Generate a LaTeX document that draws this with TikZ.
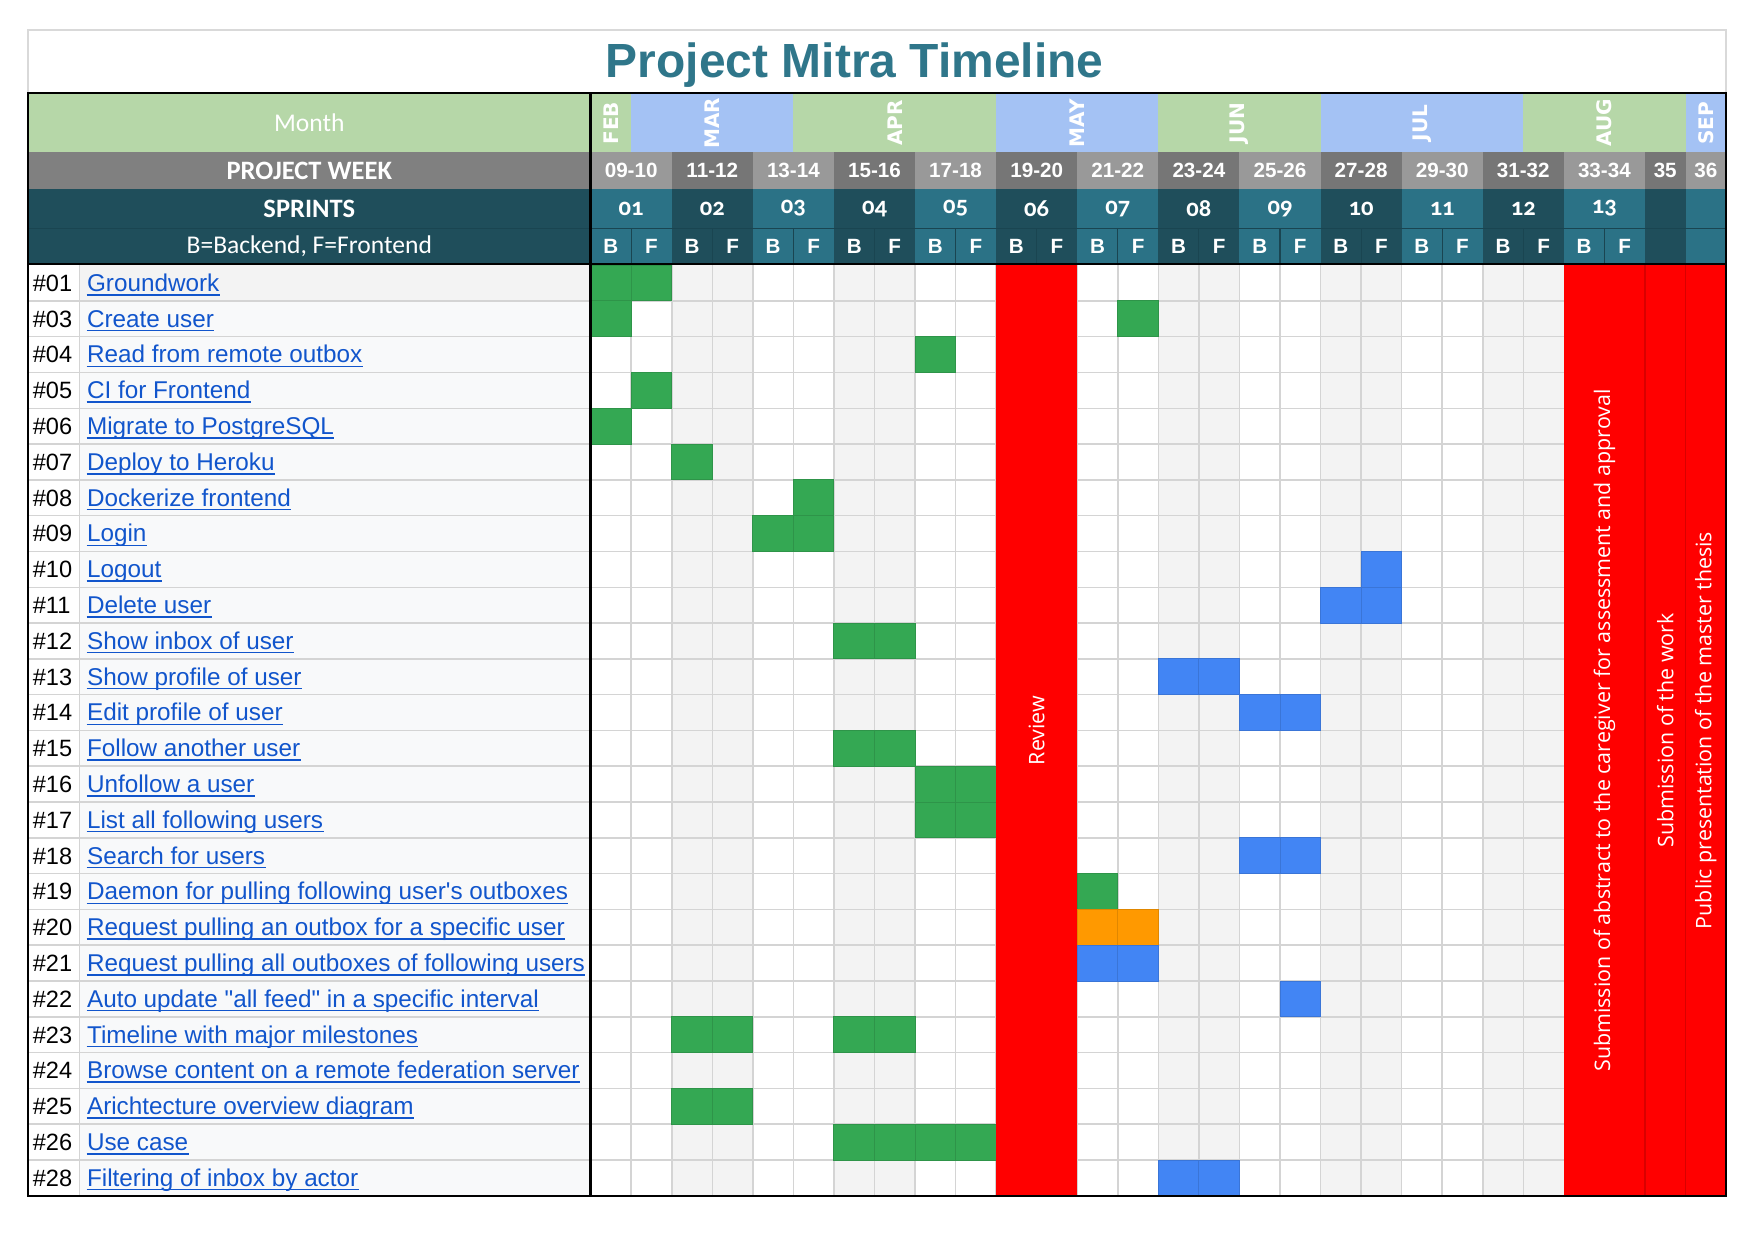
\documentclass[tikz,border=0pt]{standalone}
\usepackage{fontspec}
\setmainfont{Liberation Sans}
\newfontfamily\calfont{Carlito}
\newfontfamily\sprintfont[Numbers=OldStyle]{Carlito}
\newfontfamily\osfont{Open Sans}
\newfontfamily\monthfont{DejaVu Sans}
\definecolor{titleteal}{HTML}{2F768A}
\definecolor{framegrey}{HTML}{D9D9D9}
\definecolor{mgreen}{HTML}{B6D7A8}
\definecolor{mblue}{HTML}{A4C2F4}
\definecolor{wkgrey}{HTML}{808080}
\definecolor{wkL}{HTML}{999999}
\definecolor{wkD}{HTML}{767676}
\definecolor{spL}{HTML}{2B7286}
\definecolor{spD}{HTML}{1F4E5B}
\definecolor{spline}{HTML}{1A4551}
\definecolor{cellgrey}{HTML}{F3F3F3}
\definecolor{labelbg}{HTML}{F8F9FA}
\definecolor{gridgrey}{HTML}{D4D4D4}
\definecolor{linkblue}{HTML}{1155CC}
\definecolor{tgreen}{HTML}{34A853}
\definecolor{tblue}{HTML}{4285F4}
\definecolor{torange}{HTML}{FF9900}
\definecolor{mred}{HTML}{FF0000}
\begin{document}
\begin{tikzpicture}[x=0.02cm, y=-0.02cm,
    hdrtext/.style={text=white, inner sep=0pt, font=\calfont\fontsize{13}{15}\selectfont},
    hdrbold/.style={text=white, inner sep=0pt, font=\calfont\bfseries\fontsize{13.5}{15}\selectfont},
    monthtext/.style={text=white, inner sep=0pt, rotate=90, font=\monthfont\bfseries\fontsize{10.2}{12}\selectfont},
    weektext/.style={text=white, inner sep=0pt, font=\bfseries\fontsize{10.5}{12}\selectfont},
    sprinttext/.style={text=white, inner sep=0pt, font=\sprintfont\bfseries\fontsize{12.5}{14}\selectfont},
    idtext/.style={anchor=base west, inner sep=0pt, font=\fontsize{12}{14}\selectfont},
    rowlabel/.style={anchor=base west, inner sep=0pt, text=linkblue, font=\fontsize{12.35}{14}\selectfont},
    linkline/.style={linkblue, line width=0.8pt},
    gridline/.style={gridgrey, line width=0.8pt},
    task/.style={line width=0.5pt},
    redtext/.style={text=white, inner sep=0pt, rotate=90, font=\osfont\fontsize{10.9}{13}\selectfont},
    redsep/.style={mred!85!black, line width=0.6pt},
    border/.style={black, line width=1.3pt}
]
    \useasboundingbox (0,0) rectangle (1568,1109);
    % Title
    \draw[framegrey, line width=0.8pt] (25,27) rectangle (1543,83);
    \node[anchor=base, inner sep=0pt, text=titleteal, font=\bfseries\fontsize{24.4}{26}\selectfont] (title) at (764,69) {Project Mitra Timeline};
    % Month row
    \fill[mgreen] (25,83) rectangle (528,136);
    \node[hdrtext] (month) at (276.5,110) {Month};
    \foreach \k/\n/\col/\mon in {0/1/mgreen/FEB, 1/4/mblue/MAR, 5/5/mgreen/APR, 10/4/mblue/MAY, 14/4/mgreen/JUN, 18/5/mblue/JUL, 23/4/mgreen/AUG, 27/1/mblue/SEP} {
        \fill[\col] ({528+\k*36.25},83) rectangle ({528+(\k+\n)*36.25},136);
        \node[monthtext] (m\mon) at ({528+(\k+\n/2)*36.25},110) {\mon};
    }
    % Week, sprint and B/F rows
    \fill[wkgrey] (25,136) rectangle (528,169);
    \node[hdrbold] (week) at (276.5,152.5) {PROJECT WEEK};
    \fill[spD] (25,169) rectangle (528,236);
    \draw[spline, line width=0.6pt] (25,204) -- (528,204);
    \node[hdrbold] (sprints) at (276.5,186.5) {SPRINTS};
    \node[hdrtext] (legend) at (276.5,220) {B=Backend, F=Frontend};
    \foreach \p/\w/\s/\t in {0/09-10/01/L, 1/11-12/02/D, 2/13-14/03/L, 3/15-16/04/D, 4/17-18/05/L, 5/19-20/06/D, 6/21-22/07/L, 7/23-24/08/D, 8/25-26/09/L, 9/27-28/10/D, 10/29-30/11/L, 11/31-32/12/D, 12/33-34/13/L} {
        \fill[wk\t] ({528+\p*72.5},136) rectangle ({528+(\p+1)*72.5},169);
        \node[weektext] (w\p) at ({528+(\p+0.5)*72.5},152.5) {\w};
        \fill[sp\t] ({528+\p*72.5},169) rectangle ({528+(\p+1)*72.5},236);
        \draw[spline, line width=0.6pt] ({528+\p*72.5},204) -- ({528+(\p+1)*72.5},204);
        \draw[spline, line width=0.6pt] ({528+(\p+0.5)*72.5},204) -- ({528+(\p+0.5)*72.5},236);
        \node[sprinttext] (s\p) at ({528+(\p+0.5)*72.5},186.5) {\s};
        \node[weektext] (b\p) at ({528+(\p+0.25)*72.5},220) {B};
        \node[weektext] (f\p) at ({528+(\p+0.75)*72.5},220) {F};
    }
    \foreach \k/\w/\t in {26/35/D, 27/36/L} {
        \fill[wk\t] ({528+\k*36.25},136) rectangle ({528+(\k+1)*36.25},169);
        \node[weektext] (w\w) at ({528+(\k+0.5)*36.25},152.5) {\w};
        \fill[sp\t] ({528+\k*36.25},169) rectangle ({528+(\k+1)*36.25},236);
        \draw[spline, line width=0.6pt] ({528+\k*36.25},204) -- ({528+(\k+1)*36.25},204);
    }
    % Body background and grid
    \fill[labelbg] (71,237) rectangle (528,1069);
    \fill[cellgrey] (71,237) rectangle (528,269);
    \foreach \p in {1,3,...,11} {
        \fill[cellgrey] ({528+\p*72.5},237) rectangle ({528+(\p+1)*72.5},1069);
    }
    \foreach \r in {1,...,25} {
        \draw[gridline] (25,{237+\r*32}) -- (1398,{237+\r*32});
    }
    \foreach \k in {1,...,23} {
        \draw[gridline] ({528+\k*36.25},237) -- ({528+\k*36.25},1069);
    }
    \draw[gridline] (71,237) -- (71,1069);
    % Tasks
    \foreach \r/\id/\txt in {0/01/Groundwork, 1/03/Create user, 2/04/Read from remote outbox, 3/05/CI for Frontend, 4/06/Migrate to PostgreSQL, 5/07/Deploy to Heroku, 6/08/Dockerize frontend, 7/09/Login, 8/10/Logout, 9/11/Delete user, 10/12/Show inbox of user, 11/13/Show profile of user, 12/14/Edit profile of user, 13/15/Follow another user, 14/16/Unfollow a user, 15/17/List all following users, 16/18/Search for users, 17/19/Daemon for pulling following user\textquotesingle s outboxes, 18/20/Request pulling an outbox for a specific user, 19/21/Request pulling all outboxes of following users, 20/22/Auto update \textquotedbl all feed\textquotedbl{} in a specific interval, 21/23/Timeline with major milestones, 22/24/Browse content on a remote federation server, 23/25/Arichtecture overview diagram, 24/26/Use case, 25/28/Filtering of inbox by actor} {
        \node[idtext] (id\r) at (29,{237+\r*32+23.5}) {\#\id};
        \node[rowlabel] (t\r) at (77.5,{237+\r*32+23.5}) {\txt};
        \draw[linkline] ([yshift=-1.7pt]t\r.base west) -- ([yshift=-1.7pt]t\r.base east);
    }
    % Cells worked on (B/F per sprint)
    \foreach \r/\k/\col in {0/0/tgreen, 0/1/tgreen, 1/0/tgreen, 1/13/tgreen, 2/8/tgreen, 3/1/tgreen, 4/0/tgreen, 5/2/tgreen, 6/5/tgreen, 7/4/tgreen, 7/5/tgreen, 8/19/tblue, 9/18/tblue, 9/19/tblue, 10/6/tgreen, 10/7/tgreen, 11/14/tblue, 11/15/tblue, 12/16/tblue, 12/17/tblue, 13/6/tgreen, 13/7/tgreen, 14/8/tgreen, 14/9/tgreen, 15/8/tgreen, 15/9/tgreen, 16/16/tblue, 16/17/tblue, 17/12/tgreen, 18/12/torange, 18/13/torange, 19/12/tblue, 19/13/tblue, 20/17/tblue, 21/2/tgreen, 21/3/tgreen, 21/6/tgreen, 21/7/tgreen, 23/2/tgreen, 23/3/tgreen, 24/6/tgreen, 24/7/tgreen, 24/8/tgreen, 24/9/tgreen, 25/14/tblue, 25/15/tblue} {
        \filldraw[task, fill=\col, draw=\col!88!black] ({528+\k*36.25},{237+\r*32}) rectangle ({528+(\k+1)*36.25},{237+(\r+1)*32});
    }
    % Milestones
    \fill[mred] ({528+10*36.25},237) rectangle ({528+12*36.25},1069);
    \fill[mred] ({528+24*36.25},237) rectangle (1543,1069);
    \draw[redsep] ({528+26*36.25},237) -- ({528+26*36.25},1069);
    \draw[redsep] ({528+27*36.25},237) -- ({528+27*36.25},1069);
    \node[redtext] (review) at ({528+11*36.25},653) {Review};
    \node[redtext] (abstract) at ({528+25*36.25},653) {Submission of abstract to the caregiver for assessment and approval};
    \node[redtext] (submit) at ({528+26.5*36.25},653) {Submission of the work};
    \node[redtext] (present) at ({528+27.5*36.25},653) {Public presentation of the master thesis};
    % Borders
    \draw[border] (25,83) rectangle (1543,1069);
    \draw[border] (528,83) -- (528,1069);
    \draw[border] (25,236) -- (1543,236);
\end{tikzpicture}
\end{document}
